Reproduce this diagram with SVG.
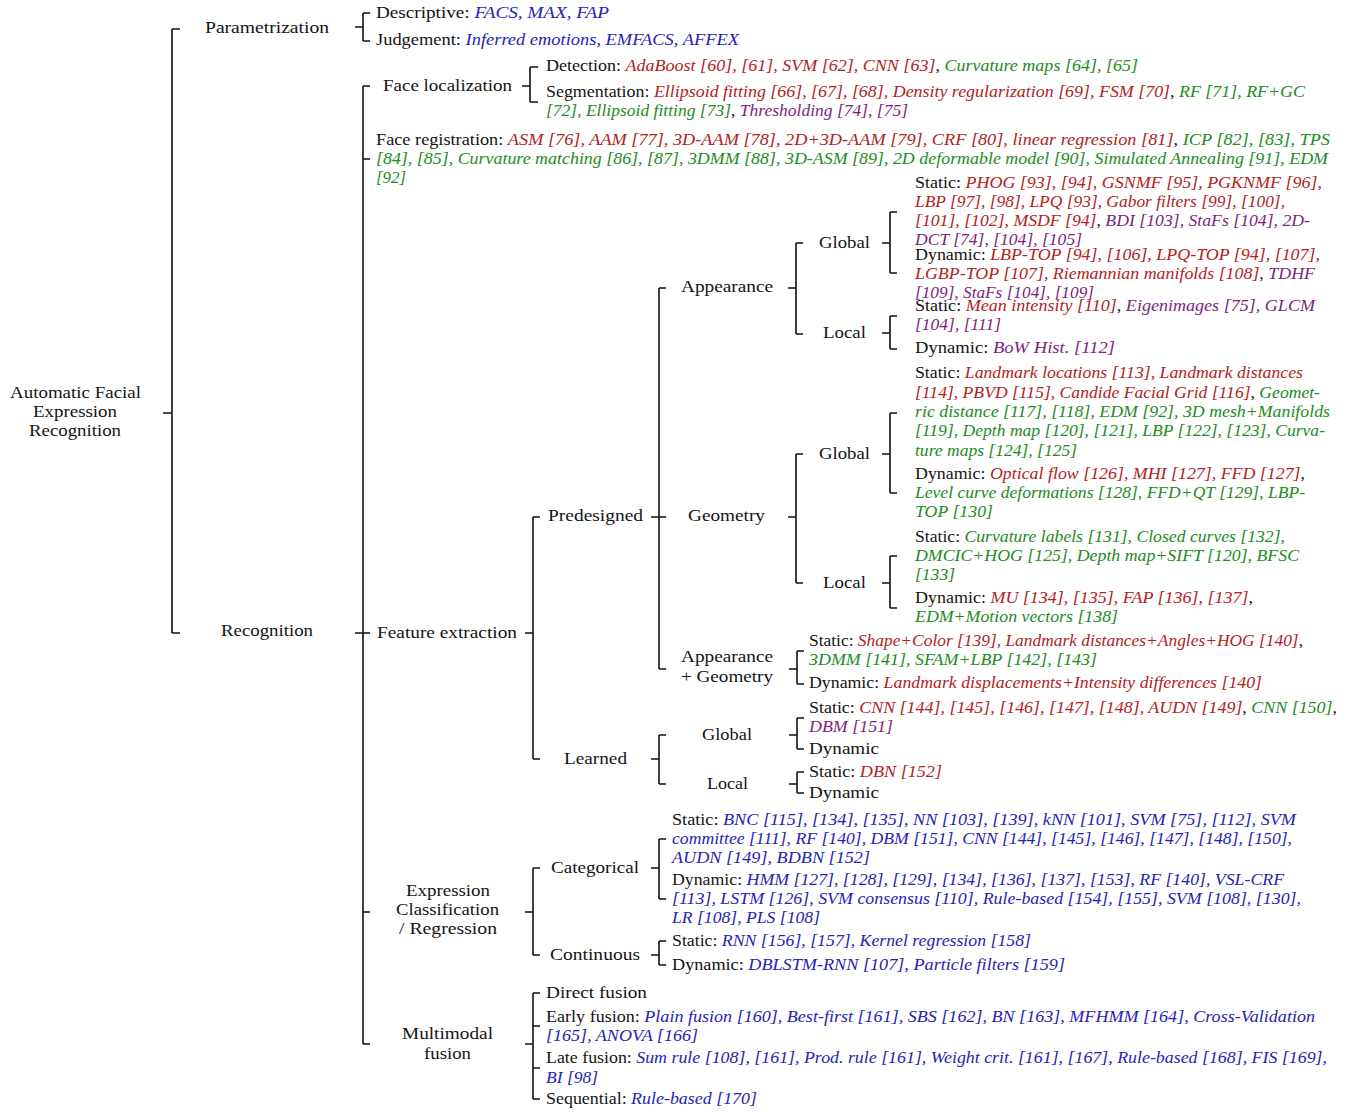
<svg xmlns="http://www.w3.org/2000/svg" width="1354" height="1112" viewBox="0 0 1354 1112">
<style>
text{font-family:"Liberation Serif","DejaVu Serif",serif;font-size:17px;fill:#141414}
.r{fill:#B22222;font-style:italic}
.g{fill:#228B22;font-style:italic}
.p{fill:#7D1F7D;font-style:italic}
.b{fill:#2424B4;font-style:italic}
.c{fill:none;stroke:#111;stroke-width:1.6}
</style>
<rect width="1354" height="1112" fill="#fff"/>
<g id="connectors" class="c">
<path d="M163,413H172M172,29V633M172,29H180M172,633H180"/>
<path d="M355,27H363M363,13V41M363,13H370M363,41H370"/>
<path d="M355,633H363M363,86V1044M363,86H370M363,159H370M363,633H370M363,912H370M363,1044H370"/>
<path d="M522,86H530M530,67V102M530,67H538M530,102H538"/>
<path d="M525,633H533M533,517V759M533,517H540M533,759H540"/>
<path d="M651,517H659M659,288V669M659,288H666M659,517H666M659,669H666"/>
<path d="M788,288H796M796,243V334M796,243H803M796,334H803"/>
<path d="M882,243H890M890,212V273M890,212H897M890,273H897"/>
<path d="M882,333H890M890,316V349M890,316H897M890,349H897"/>
<path d="M788,517H796M796,454V583M796,454H803M796,583H803"/>
<path d="M882,454H890M890,413V493M890,413H897M890,493H897"/>
<path d="M882,583H890M890,556V608M890,556H897M890,608H897"/>
<path d="M789,669H797M797,651V684M797,651H804M797,684H804"/>
<path d="M651,759H659M659,735V784M659,735H666M659,784H666"/>
<path d="M789,735H797M797,718V749M797,718H804M797,749H804"/>
<path d="M789,784H797M797,772V793M797,772H804M797,793H804"/>
<path d="M525,912H533M533,868V955M533,868H540M533,955H540"/>
<path d="M651,868H659M659,839V899M659,839H666M659,899H666"/>
<path d="M651,955H659M659,941V965M659,941H666M659,965H666"/>
<path d="M525,1044H533M533,993V1099M533,993H540M533,1026H540M533,1068H540M533,1099H540"/>
</g>
<g id="root">
<text x="10" y="398" textLength="131" lengthAdjust="spacingAndGlyphs">Automatic Facial</text>
<text x="33" y="417" textLength="84" lengthAdjust="spacingAndGlyphs">Expression</text>
<text x="29" y="436" textLength="92" lengthAdjust="spacingAndGlyphs">Recognition</text>
</g>
<g id="parametrization">
<text x="205" y="33" textLength="124" lengthAdjust="spacingAndGlyphs">Parametrization</text>
</g>
<g id="descriptive">
<text x="376" y="18" textLength="233" lengthAdjust="spacingAndGlyphs">Descriptive: <tspan class="b">FACS, MAX, FAP</tspan></text>
</g>
<g id="judgement">
<text x="376" y="45" textLength="363" lengthAdjust="spacingAndGlyphs">Judgement: <tspan class="b">Inferred emotions, EMFACS, AFFEX</tspan></text>
</g>
<g id="recognition">
<text x="221" y="636" textLength="92" lengthAdjust="spacingAndGlyphs">Recognition</text>
</g>
<g id="face-localization">
<text x="383" y="91" textLength="129" lengthAdjust="spacingAndGlyphs">Face localization</text>
</g>
<g id="detection">
<text x="546" y="71" textLength="592" lengthAdjust="spacingAndGlyphs">Detection: <tspan class="r">AdaBoost [60], [61], SVM [62], CNN [63]</tspan>, <tspan class="g">Curvature maps [64], [65]</tspan></text>
</g>
<g id="segmentation">
<text x="546" y="97" textLength="759" lengthAdjust="spacingAndGlyphs">Segmentation: <tspan class="r">Ellipsoid fitting [66], [67], [68], Density regularization [69], FSM [70]</tspan>, <tspan class="g">RF [71], RF+GC</tspan></text>
<text x="546" y="116" textLength="362" lengthAdjust="spacingAndGlyphs"><tspan class="g">[72], Ellipsoid fitting [73]</tspan>, <tspan class="p">Thresholding [74], [75]</tspan></text>
</g>
<g id="face-registration">
<text x="376" y="145" textLength="954" lengthAdjust="spacingAndGlyphs">Face registration: <tspan class="r">ASM [76], AAM [77], 3D-AAM [78], 2D+3D-AAM [79], CRF [80], linear regression [81]</tspan>, <tspan class="g">ICP [82], [83], TPS</tspan></text>
<text x="376" y="164" textLength="952" lengthAdjust="spacingAndGlyphs" class="g">[84], [85], Curvature matching [86], [87], 3DMM [88], 3D-ASM [89], 2D deformable model [90], Simulated Annealing [91], EDM</text>
<text x="376" y="183" textLength="30" lengthAdjust="spacingAndGlyphs" class="g">[92]</text>
</g>
<g id="feature-extraction">
<text x="377" y="638" textLength="140" lengthAdjust="spacingAndGlyphs">Feature extraction</text>
</g>
<g id="predesigned">
<text x="548" y="521" textLength="95" lengthAdjust="spacingAndGlyphs">Predesigned</text>
</g>
<g id="appearance">
<text x="681" y="292" textLength="92" lengthAdjust="spacingAndGlyphs">Appearance</text>
</g>
<g id="appearance-global">
<text x="819" y="248" textLength="51" lengthAdjust="spacingAndGlyphs">Global</text>
</g>
<g id="appearance-global-static">
<text x="915" y="188" textLength="407" lengthAdjust="spacingAndGlyphs">Static: <tspan class="r">PHOG [93], [94], GSNMF [95], PGKNMF [96],</tspan></text>
<text x="915" y="207" textLength="370" lengthAdjust="spacingAndGlyphs" class="r">LBP [97], [98], LPQ [93], Gabor filters [99], [100],</text>
<text x="915" y="226" textLength="395" lengthAdjust="spacingAndGlyphs"><tspan class="r">[101], [102], MSDF [94]</tspan>, <tspan class="p">BDI [103], StaFs [104], 2D-</tspan></text>
<text x="915" y="245" textLength="167" lengthAdjust="spacingAndGlyphs" class="p">DCT [74], [104], [105]</text>
</g>
<g id="appearance-global-dynamic">
<text x="915" y="260" textLength="405" lengthAdjust="spacingAndGlyphs">Dynamic: <tspan class="r">LBP-TOP [94], [106], LPQ-TOP [94], [107],</tspan></text>
<text x="915" y="279" textLength="400" lengthAdjust="spacingAndGlyphs"><tspan class="r">LGBP-TOP [107], Riemannian manifolds [108]</tspan>, <tspan class="p">TDHF</tspan></text>
<text x="915" y="298" textLength="179" lengthAdjust="spacingAndGlyphs" class="p">[109], StaFs [104], [109]</text>
</g>
<g id="appearance-local">
<text x="823" y="338" textLength="43" lengthAdjust="spacingAndGlyphs">Local</text>
</g>
<g id="appearance-local-static">
<text x="915" y="311" textLength="400" lengthAdjust="spacingAndGlyphs">Static: <tspan class="r">Mean intensity [110]</tspan>, <tspan class="p">Eigenimages [75], GLCM</tspan></text>
<text x="915" y="330" textLength="86" lengthAdjust="spacingAndGlyphs" class="p">[104], [111]</text>
</g>
<g id="appearance-local-dynamic">
<text x="915" y="353" textLength="200" lengthAdjust="spacingAndGlyphs">Dynamic: <tspan class="p">BoW Hist. [112]</tspan></text>
</g>
<g id="geometry">
<text x="688" y="521" textLength="77" lengthAdjust="spacingAndGlyphs">Geometry</text>
</g>
<g id="geometry-global">
<text x="819" y="459" textLength="51" lengthAdjust="spacingAndGlyphs">Global</text>
</g>
<g id="geometry-global-static">
<text x="915" y="378" textLength="388" lengthAdjust="spacingAndGlyphs">Static: <tspan class="r">Landmark locations [113], Landmark distances</tspan></text>
<text x="915" y="398" textLength="405" lengthAdjust="spacingAndGlyphs"><tspan class="r">[114], PBVD [115], Candide Facial Grid [116]</tspan>, <tspan class="g">Geomet-</tspan></text>
<text x="915" y="417" textLength="415" lengthAdjust="spacingAndGlyphs" class="g">ric distance [117], [118], EDM [92], 3D mesh+Manifolds</text>
<text x="915" y="436" textLength="410" lengthAdjust="spacingAndGlyphs" class="g">[119], Depth map [120], [121], LBP [122], [123], Curva-</text>
<text x="915" y="456" textLength="162" lengthAdjust="spacingAndGlyphs" class="g">ture maps [124], [125]</text>
</g>
<g id="geometry-global-dynamic">
<text x="915" y="479" textLength="390" lengthAdjust="spacingAndGlyphs">Dynamic: <tspan class="r">Optical flow [126], MHI [127], FFD [127]</tspan>,</text>
<text x="915" y="498" textLength="390" lengthAdjust="spacingAndGlyphs" class="g">Level curve deformations [128], FFD+QT [129], LBP-</text>
<text x="915" y="517" textLength="78" lengthAdjust="spacingAndGlyphs" class="g">TOP [130]</text>
</g>
<g id="geometry-local">
<text x="823" y="588" textLength="43" lengthAdjust="spacingAndGlyphs">Local</text>
</g>
<g id="geometry-local-static">
<text x="915" y="542" textLength="370" lengthAdjust="spacingAndGlyphs">Static: <tspan class="g">Curvature labels [131], Closed curves [132],</tspan></text>
<text x="915" y="561" textLength="384" lengthAdjust="spacingAndGlyphs" class="g">DMCIC+HOG [125], Depth map+SIFT [120], BFSC</text>
<text x="915" y="580" textLength="40" lengthAdjust="spacingAndGlyphs" class="g">[133]</text>
</g>
<g id="geometry-local-dynamic">
<text x="915" y="603" textLength="338" lengthAdjust="spacingAndGlyphs">Dynamic: <tspan class="r">MU [134], [135], FAP [136], [137]</tspan>,</text>
<text x="915" y="622" textLength="203" lengthAdjust="spacingAndGlyphs" class="g">EDM+Motion vectors [138]</text>
</g>
<g id="appearance-geometry">
<text x="681" y="662" textLength="92" lengthAdjust="spacingAndGlyphs">Appearance</text>
<text x="681" y="682" textLength="92" lengthAdjust="spacingAndGlyphs">+ Geometry</text>
</g>
<g id="appearance-geometry-static">
<text x="809" y="646" textLength="494" lengthAdjust="spacingAndGlyphs">Static: <tspan class="r">Shape+Color [139], Landmark distances+Angles+HOG [140]</tspan>,</text>
<text x="809" y="665" textLength="288" lengthAdjust="spacingAndGlyphs" class="g">3DMM [141], SFAM+LBP [142], [143]</text>
</g>
<g id="appearance-geometry-dynamic">
<text x="809" y="688" textLength="453" lengthAdjust="spacingAndGlyphs">Dynamic: <tspan class="r">Landmark displacements+Intensity differences [140]</tspan></text>
</g>
<g id="learned">
<text x="564" y="764" textLength="63" lengthAdjust="spacingAndGlyphs">Learned</text>
</g>
<g id="learned-global">
<text x="702" y="740" textLength="50" lengthAdjust="spacingAndGlyphs">Global</text>
</g>
<g id="learned-global-static">
<text x="809" y="713" textLength="528" lengthAdjust="spacingAndGlyphs">Static: <tspan class="r">CNN [144], [145], [146], [147], [148], AUDN [149]</tspan>, <tspan class="g">CNN [150]</tspan>,</text>
<text x="809" y="732" textLength="84" lengthAdjust="spacingAndGlyphs" class="p">DBM [151]</text>
</g>
<g id="learned-global-dynamic">
<text x="809" y="754" textLength="70" lengthAdjust="spacingAndGlyphs">Dynamic</text>
</g>
<g id="learned-local">
<text x="707" y="789" textLength="41" lengthAdjust="spacingAndGlyphs">Local</text>
</g>
<g id="learned-local-static">
<text x="809" y="777" textLength="133" lengthAdjust="spacingAndGlyphs">Static: <tspan class="r">DBN [152]</tspan></text>
</g>
<g id="learned-local-dynamic">
<text x="809" y="798" textLength="70" lengthAdjust="spacingAndGlyphs">Dynamic</text>
</g>
<g id="expression-classification">
<text x="406" y="896" textLength="84" lengthAdjust="spacingAndGlyphs">Expression</text>
<text x="396" y="915" textLength="103" lengthAdjust="spacingAndGlyphs">Classification</text>
<text x="399" y="934" textLength="98" lengthAdjust="spacingAndGlyphs">/ Regression</text>
</g>
<g id="categorical">
<text x="551" y="873" textLength="88" lengthAdjust="spacingAndGlyphs">Categorical</text>
</g>
<g id="categorical-static">
<text x="672" y="825" textLength="624" lengthAdjust="spacingAndGlyphs">Static: <tspan class="b">BNC [115], [134], [135], NN [103], [139], kNN [101], SVM [75], [112], SVM</tspan></text>
<text x="672" y="844" textLength="620" lengthAdjust="spacingAndGlyphs" class="b">committee [111], RF [140], DBM [151], CNN [144], [145], [146], [147], [148], [150],</text>
<text x="672" y="863" textLength="198" lengthAdjust="spacingAndGlyphs" class="b">AUDN [149], BDBN [152]</text>
</g>
<g id="categorical-dynamic">
<text x="672" y="885" textLength="612" lengthAdjust="spacingAndGlyphs">Dynamic: <tspan class="b">HMM [127], [128], [129], [134], [136], [137], [153], RF [140], VSL-CRF</tspan></text>
<text x="672" y="904" textLength="629" lengthAdjust="spacingAndGlyphs" class="b">[113], LSTM [126], SVM consensus [110], Rule-based [154], [155], SVM [108], [130],</text>
<text x="672" y="923" textLength="148" lengthAdjust="spacingAndGlyphs" class="b">LR [108], PLS [108]</text>
</g>
<g id="continuous">
<text x="550" y="960" textLength="90" lengthAdjust="spacingAndGlyphs">Continuous</text>
</g>
<g id="continuous-static">
<text x="672" y="946" textLength="359" lengthAdjust="spacingAndGlyphs">Static: <tspan class="b">RNN [156], [157], Kernel regression [158]</tspan></text>
</g>
<g id="continuous-dynamic">
<text x="672" y="970" textLength="393" lengthAdjust="spacingAndGlyphs">Dynamic: <tspan class="b">DBLSTM-RNN [107], Particle filters [159]</tspan></text>
</g>
<g id="multimodal-fusion">
<text x="402" y="1039" textLength="91" lengthAdjust="spacingAndGlyphs">Multimodal</text>
<text x="424" y="1059" textLength="47" lengthAdjust="spacingAndGlyphs">fusion</text>
</g>
<g id="direct-fusion">
<text x="546" y="998" textLength="101" lengthAdjust="spacingAndGlyphs">Direct fusion</text>
</g>
<g id="early-fusion">
<text x="546" y="1022" textLength="769" lengthAdjust="spacingAndGlyphs">Early fusion: <tspan class="b">Plain fusion [160], Best-first [161], SBS [162], BN [163], MFHMM [164], Cross-Validation</tspan></text>
<text x="546" y="1041" textLength="152" lengthAdjust="spacingAndGlyphs" class="b">[165], ANOVA [166]</text>
</g>
<g id="late-fusion">
<text x="546" y="1063" textLength="781" lengthAdjust="spacingAndGlyphs">Late fusion: <tspan class="b">Sum rule [108], [161], Prod. rule [161], Weight crit. [161], [167], Rule-based [168], FIS [169],</tspan></text>
<text x="546" y="1083" textLength="52" lengthAdjust="spacingAndGlyphs" class="b">BI [98]</text>
</g>
<g id="sequential">
<text x="546" y="1104" textLength="211" lengthAdjust="spacingAndGlyphs">Sequential: <tspan class="b">Rule-based [170]</tspan></text>
</g>
</svg>
